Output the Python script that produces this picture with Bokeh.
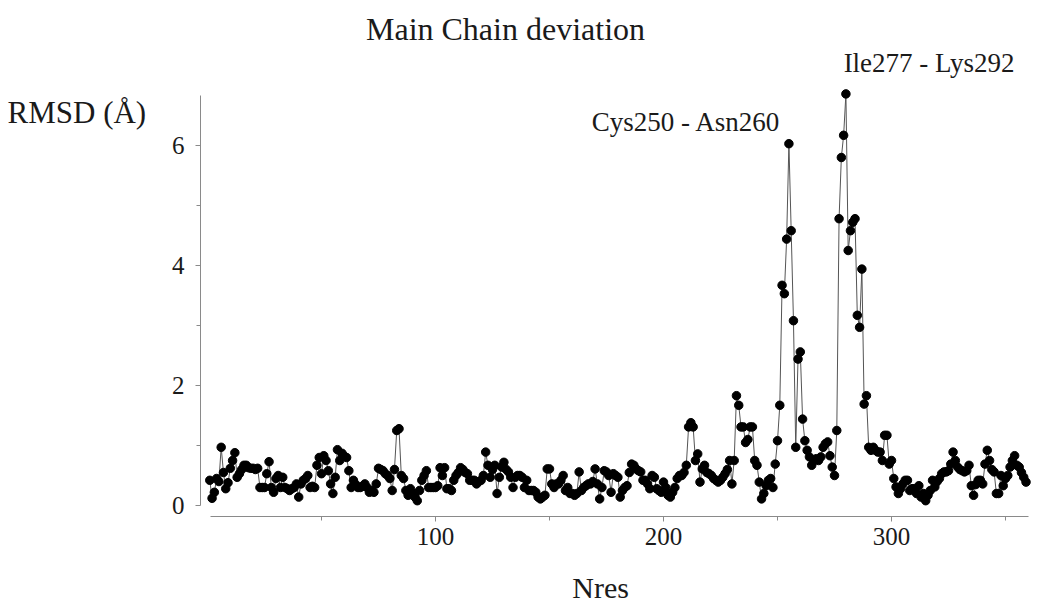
from bokeh.plotting import figure
from bokeh.models import ColumnDataSource, Label, FixedTicker, Range1d
from bokeh.embed import file_html
from bokeh.resources import INLINE

title_text = "Main Chain deviation"
x_label = "Nres"
y_label = "RMSD (Å)"
region_labels = ["Cys250 - Asn260", "Ile277 - Lys292"]
x_ticks = [100, 200, 300]
x_minor_ticks = [50, 150, 250, 350]
y_ticks = [0, 2, 4, 6]
y_minor_ticks = [1, 3, 5]

residues = list(range(1, 360))
rmsd = [
    0.42, 0.12, 0.22, 0.45, 0.40, 0.97, 0.55, 0.28, 0.38, 0.62,
    0.75, 0.88, 0.47, 0.53, 0.60, 0.67, 0.67, 0.63, 0.62, 0.62,
    0.60, 0.62, 0.30, 0.30, 0.30, 0.53, 0.73, 0.30, 0.22, 0.45,
    0.50, 0.30, 0.47, 0.30, 0.28, 0.25, 0.28, 0.30, 0.36, 0.14,
    0.36, 0.42, 0.45, 0.50, 0.30, 0.32, 0.30, 0.67, 0.80, 0.53,
    0.83, 0.75, 0.58, 0.36, 0.20, 0.47, 0.93, 0.75, 0.87, 0.82,
    0.80, 0.58, 0.30, 0.42, 0.35, 0.30, 0.30, 0.32, 0.36, 0.30,
    0.22, 0.25, 0.22, 0.36, 0.62, 0.60, 0.58, 0.53, 0.50, 0.45,
    0.25, 0.60, 1.25, 1.28, 0.50, 0.45, 0.25, 0.17, 0.28, 0.20,
    0.14, 0.08, 0.25, 0.42, 0.50, 0.58, 0.30, 0.30, 0.30, 0.30,
    0.33, 0.63, 0.50, 0.63, 0.28, 0.28, 0.25, 0.42, 0.50, 0.55,
    0.63, 0.60, 0.55, 0.53, 0.42, 0.42, 0.42, 0.36, 0.40, 0.42,
    0.50, 0.89, 0.67, 0.47, 0.60, 0.67, 0.20, 0.47, 0.64, 0.72,
    0.60, 0.56, 0.47, 0.30, 0.47, 0.50, 0.50, 0.47, 0.30, 0.42,
    0.25, 0.25, 0.25, 0.22, 0.14, 0.11, 0.14, 0.17, 0.61, 0.61,
    0.36, 0.30, 0.36, 0.36, 0.42, 0.50, 0.25, 0.30, 0.20, 0.20,
    0.17, 0.20, 0.56, 0.25, 0.30, 0.33, 0.36, 0.36, 0.40, 0.61,
    0.36, 0.11, 0.30, 0.58, 0.56, 0.50, 0.22, 0.53, 0.50, 0.47,
    0.14, 0.25, 0.30, 0.33, 0.55, 0.69, 0.67, 0.61, 0.58, 0.56,
    0.42, 0.42, 0.36, 0.28, 0.50, 0.47, 0.28, 0.25, 0.22, 0.39,
    0.30, 0.17, 0.14, 0.22, 0.30, 0.45, 0.50, 0.50, 0.55, 0.67,
    1.31, 1.38, 1.31, 0.75, 0.86, 0.39, 0.61, 0.67, 0.55, 0.53,
    0.50, 0.45, 0.42, 0.39, 0.42, 0.47, 0.53, 0.60, 0.75, 0.36,
    0.75, 1.83, 1.67, 1.31, 1.31, 1.05, 1.10, 1.31, 1.31, 0.75,
    0.67, 0.39, 0.11, 0.20, 0.33, 0.42, 0.45, 0.30, 0.69, 1.08,
    1.67, 3.67, 3.53, 4.44, 6.03, 4.58, 3.08, 0.97, 2.44, 2.56,
    1.44, 1.08, 0.92, 0.81, 0.67, 0.75, 0.78, 0.75, 0.81, 0.97,
    1.03, 1.06, 0.83, 0.64, 0.50, 1.25, 4.78, 5.80, 6.17, 6.86,
    4.25, 4.58, 4.72, 4.78, 3.17, 2.97, 3.94, 1.69, 1.83, 0.97,
    0.92, 0.97, 0.92, 0.89, 0.89, 0.75, 1.17, 1.17, 0.69, 0.75,
    0.45, 0.31, 0.20, 0.28, 0.36, 0.42, 0.42, 0.25, 0.28, 0.28,
    0.20, 0.33, 0.14, 0.20, 0.08, 0.17, 0.25, 0.42, 0.31, 0.40,
    0.45, 0.53, 0.56, 0.56, 0.58, 0.69, 0.89, 0.75, 0.64, 0.60,
    0.58, 0.56, 0.58, 0.67, 0.33, 0.17, 0.35, 0.42, 0.42, 0.36,
    0.69, 0.92, 0.75, 0.60, 0.56, 0.20, 0.20, 0.50, 0.33, 0.45,
    0.50, 0.64, 0.75, 0.83, 0.67, 0.64, 0.55, 0.47, 0.39,
]

FONT = "Liberation Serif"
TXT = "#1a1a1a"
AXC = "#8a8a8a"

source = ColumnDataSource(data=dict(res=residues, rmsd=rmsd))

p = figure(width=1038, height=613, output_backend="svg", toolbar_location=None,
           x_range=Range1d(-90.79, 364.47), y_range=Range1d(-1.8, 8.4167),
           min_border=0)
p.title.visible = False
p.outline_line_color = None
p.background_fill_color = "white"
p.border_fill_color = "white"
p.xgrid.visible = False
p.ygrid.visible = False

p.xaxis.ticker = FixedTicker(ticks=x_ticks, minor_ticks=x_minor_ticks)
p.yaxis.ticker = FixedTicker(ticks=y_ticks, minor_ticks=y_minor_ticks)
p.xaxis.bounds = (1.5, 360)
p.yaxis.bounds = (0, 6.83)
p.xaxis.fixed_location = -0.1833
p.yaxis.fixed_location = -3.07

for ax in (p.xaxis[0], p.yaxis[0]):
    ax.axis_line_color = AXC
    ax.axis_line_width = 1
    ax.major_tick_line_color = AXC
    ax.minor_tick_line_color = AXC
    ax.major_tick_in = 0
    ax.major_tick_out = 5
    ax.minor_tick_in = 0
    ax.minor_tick_out = 4
    ax.major_label_text_font = FONT
    ax.major_label_text_font_size = "25px"
    ax.major_label_text_color = TXT
p.xaxis.major_label_standoff = 7
p.yaxis.major_label_standoff = 11

p.line("res", "rmsd", source=source, line_color="#555555", line_width=1)
p.scatter("res", "rmsd", source=source, size=8.5, fill_color="black",
          line_color="black")

def add_label(x, y, text, size, align="left"):
    p.add_layout(Label(x=x, y=y, text=text, text_align=align,
                       text_baseline="alphabetic", text_font=FONT,
                       text_font_size=size, text_color=TXT))

add_label(130.7, 7.95, title_text, "32px", "center")
add_label(-87.7, 6.55, y_label, "31px")
add_label(172.4, -1.37, x_label, "30px", "center")
add_label(168.5, 6.40, region_labels[0], "27px")
add_label(279.0, 7.37, region_labels[1], "27px")

open("out.html", "w").write(file_html(p, INLINE))
